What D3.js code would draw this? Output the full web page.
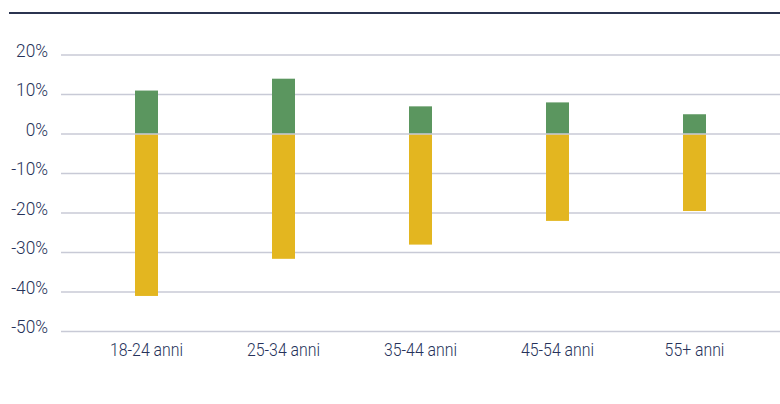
<!DOCTYPE html>
<html><head><meta charset="utf-8">
<script src="https://cdn.jsdelivr.net/npm/d3@7"></script>
<style>
html,body{margin:0;padding:0;background:#fff;}
text{font-family:Roboto,"Liberation Sans",sans-serif;font-weight:300;}
</style></head>
<body>
<svg id="chart" width="780" height="404"></svg>
<script>
const categories = ["18-24 anni","25-34 anni","35-44 anni","45-54 anni","55+ anni"];
const positives = [11, 14, 7, 8, 5];
const negatives = [-41, -31.6, -28, -22, -19.5];
const tickValues = [20, 10, 0, -10, -20, -30, -40, -50];

const svg = d3.select("#chart");
const W = 780;
const sx = 0.88;
const y = d3.scaleLinear().domain([-50, 20]).range([331.5, 55]);
const x = d3.scaleBand().domain(categories).range([78, 763]).paddingInner(0.832).paddingOuter(0.416);

// top rule
svg.append("line").attr("x1", 9).attr("x2", W).attr("y1", 13).attr("y2", 13)
  .attr("stroke", "#2b3450").attr("stroke-width", 2);

// gridlines
svg.append("g").selectAll("line").data(tickValues.filter(d => d !== 0)).join("line")
  .attr("x1", 61).attr("x2", W).attr("y1", d => y(d)).attr("y2", d => y(d))
  .attr("stroke", "#c8cad6").attr("stroke-width", 1.5);

// bars
const bw = 23;
svg.append("g").selectAll("rect").data(categories).join("rect")
  .attr("x", d => x(d) + x.bandwidth()/2 - bw/2).attr("width", bw)
  .attr("y", (d,i) => y(positives[i])).attr("height", (d,i) => y(0) - y(positives[i]))
  .attr("fill", "#5b965f");
svg.append("g").selectAll("rect").data(categories).join("rect")
  .attr("x", d => x(d) + x.bandwidth()/2 - bw/2).attr("width", bw)
  .attr("y", y(0)).attr("height", (d,i) => y(negatives[i]) - y(0))
  .attr("fill", "#e3b620");

// zero line on top
svg.append("line").attr("x1", 61).attr("x2", W).attr("y1", y(0)).attr("y2", y(0))
  .attr("stroke", "#c8cad6").attr("stroke-width", 1.5);

// y labels
svg.append("g").selectAll("text").data(tickValues).join("text")
  .attr("transform", d => `translate(48,${y(d) + 1.5}) scale(0.96,1)`)
  .attr("text-anchor", "end").attr("font-size", 18).attr("fill", "#26325a")
  .text(d => d + "%");

// x labels
svg.append("g").selectAll("text").data(categories).join("text")
  .attr("transform", d => `translate(${x(d) + x.bandwidth()/2},356) scale(${sx},1)`)
  .attr("text-anchor", "middle").attr("font-size", 18).attr("fill", "#26325a")
  .text(d => d);
</script>
</body></html>
